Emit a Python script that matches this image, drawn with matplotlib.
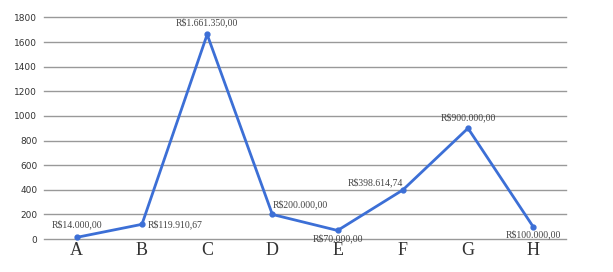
import matplotlib
matplotlib.use("Agg")
import matplotlib.pyplot as plt
import numpy as np

categories = ['A', 'B', 'C', 'D', 'E', 'F', 'G', 'H']
values = [14.0, 119.91067, 1661.35, 200.0, 70.0, 398.61474, 900.0, 100.0]
labels = ['R$14.000,00', 'R$119.910,67', 'R$1.661.350,00', 'R$200.000,00',
          'R$70.000,00', 'R$398.614,74', 'R$900.000,00', 'R$100.000,00']
# (dx, dy, ha, va) offsets in points for each label
placement = [(0, 6, 'center', 'bottom'),
             (4, 0, 'left', 'center'),
             (0, 5, 'center', 'bottom'),
             (0, 4, 'left', 'bottom'),
             (0, -2, 'center', 'top'),
             (0, 2, 'right', 'bottom'),
             (0, 4, 'center', 'bottom'),
             (0, -2, 'center', 'top')]

fig = plt.figure(figsize=(6.13, 2.72), dpi=100)
ax = fig.add_axes([0.072, 0.121, 0.851, 0.815])

x = np.arange(len(categories))
ax.plot(x, values, color='#3c6fd6', lw=2, marker='o', ms=3.5, zorder=3, clip_on=False)

for xi, v, lab, (dx, dy, ha, va) in zip(x, values, labels, placement):
    ax.annotate(lab, (xi, v), xytext=(dx, dy), textcoords='offset points',
                ha=ha, va=va, fontsize=7, family='Liberation Serif', color='#444444')

ax.set_xlim(-0.5, len(categories) - 0.5)
ax.set_ylim(0, 1800)
ax.set_yticks(np.arange(0, 1801, 200))
ax.set_xticks(x)
ax.set_xticklabels(categories, family='Liberation Serif', fontsize=13, color='#333333')
ax.tick_params(axis='y', length=0, pad=5, labelsize=6.5, labelcolor='#333333')
ax.tick_params(axis='x', length=0, pad=2)
ax.grid(axis='y', color='#999999', lw=1)
for gl in ax.get_ygridlines():
    gl.set_clip_on(False)
ax.set_axisbelow(True)
for s in ax.spines.values():
    s.set_visible(False)

fig.savefig('out.png', dpi=100)
